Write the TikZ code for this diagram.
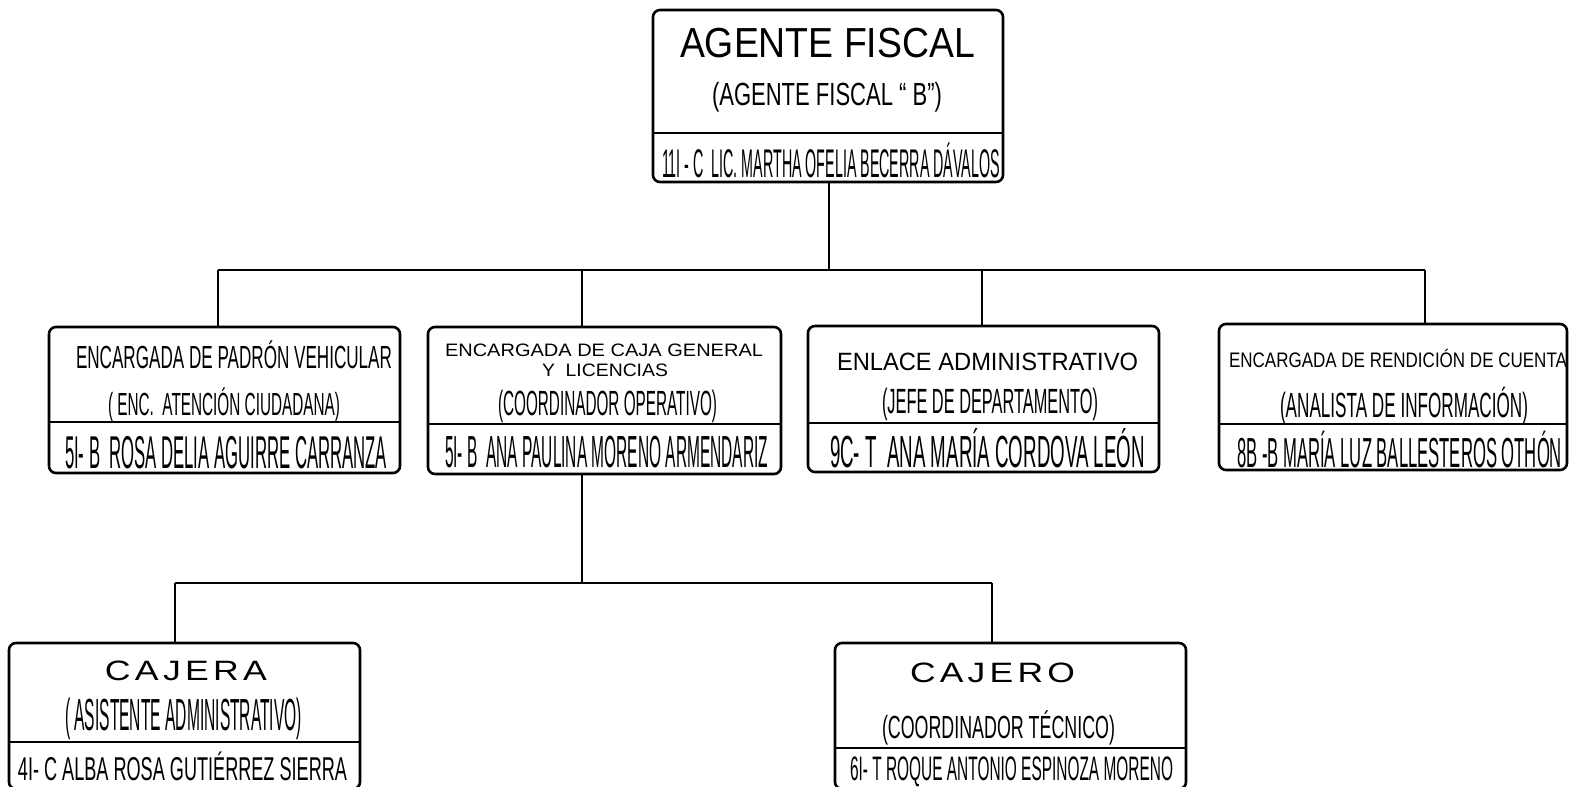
\documentclass[tikz,border=0pt]{standalone}
\usepackage{fontspec}
\setmainfont{Liberation Sans}
\usepackage{graphicx}
\newcommand{\fitline}[3]{\resizebox{#2pt}{\height}{\fontsize{#1pt}{#1pt}\selectfont #3}}
\newcommand{\fitspaced}[3]{\resizebox{#2pt}{\height}{\fontsize{#1pt}{#1pt}\selectfont\addfontfeature{LetterSpace=12}#3}}
\begin{document}
\begin{tikzpicture}[x=1pt,y=-1pt,
  box/.style={draw, line width=2.6pt, rounded corners=7pt, inner sep=0pt, outer sep=0pt},
  wire/.style={line width=1.6pt},
  divider/.style={line width=2pt},
  txt/.style={anchor=base, inner sep=0pt, outer sep=0pt}]
\useasboundingbox (0,0) rectangle (1569,787);

% boxes
\node[box, minimum width=350pt, minimum height=172pt] (top) at (828,96) {};
\node[box, minimum width=351pt, minimum height=146pt] (m1) at (224.5,400) {};
\node[box, minimum width=353pt, minimum height=147pt] (m2) at (604.5,400.5) {};
\node[box, minimum width=351pt, minimum height=146pt] (m3) at (983.5,399) {};
\node[box, minimum width=348pt, minimum height=146pt] (m4) at (1393,397) {};
\node[box, minimum width=351pt, minimum height=146pt] (b1) at (184.5,716) {};
\node[box, minimum width=351pt, minimum height=146pt] (b2) at (1010.5,716) {};

% dividers
\coordinate (d0) at (0,133);
\coordinate (d1) at (0,422);
\coordinate (d2) at (0,424);
\coordinate (d3) at (0,423);
\coordinate (d4) at (0,424);
\coordinate (d5) at (0,742);
\coordinate (d6) at (0,748);
\draw[divider] (top.west |- d0) -- (top.east |- d0);
\draw[divider] (m1.west |- d1) -- (m1.east |- d1);
\draw[divider] (m2.west |- d2) -- (m2.east |- d2);
\draw[divider] (m3.west |- d3) -- (m3.east |- d3);
\draw[divider] (m4.west |- d4) -- (m4.east |- d4);
\draw[divider] (b1.west |- d5) -- (b1.east |- d5);
\draw[divider] (b2.west |- d6) -- (b2.east |- d6);

% connectors
\coordinate (bus0) at (829,270);
\coordinate (busL) at (218,270);
\coordinate (s2) at (582,270);
\coordinate (s3) at (982,270);
\coordinate (busR) at (1425,270);
\draw[wire] (top.south -| bus0) -- (bus0);
\draw[wire] (busL) -- (busR);
\draw[wire] (busL) -- (busL |- m1.north);
\draw[wire] (s2) -- (s2 |- m2.north);
\draw[wire] (s3) -- (s3 |- m3.north);
\draw[wire] (busR) -- (busR |- m4.north);
\coordinate (s2b) at (582,583);
\coordinate (l2L) at (175,583);
\coordinate (l2R) at (992,583);
\draw[wire] (m2.south -| s2b) -- (s2b);
\draw[wire] (l2L) -- (l2R);
\draw[wire] (l2L) -- (l2L |- b1.north);
\draw[wire] (l2R) -- (l2R |- b2.north);

% texts: top
\node[txt] (t1) at (827.5,57) {\fitline{42}{295}{AGENTE FISCAL}};
\node[txt] (t2) at (827,105) {\fitline{32}{230}{(AGENTE FISCAL “ B”)}};
\node[txt] (t3) at (831,177) {\fitline{40}{338}{11I - C\ \ LIC. MARTHA OFELIA BECERRA DÁVALOS}};

% m1
\node[txt] (m1a) at (234,368) {\fitline{32}{316}{ENCARGADA DE PADRÓN VEHICULAR}};
\node[txt] (m1b) at (224,415) {\fitline{32}{232}{( ENC.\ \ ATENCIÓN CIUDADANA)}};
\node[txt] (m1c) at (226,468) {\fitline{46}{322}{5I- B\ \ ROSA DELIA AGUIRRE CARRANZA}};

% m2
\node[txt] (m2a) at (604,356) {\fitline{18}{318}{ENCARGADA DE CAJA GENERAL}};
\node[txt] (m2b) at (605,376) {\fitline{18}{126}{Y\ \ LICENCIAS}};
\node[txt] (m2c) at (607.5,415) {\fitline{35}{219}{(COORDINADOR OPERATIVO)}};
\node[txt] (m2d) at (606.5,467) {\fitline{45}{323}{5I- B\ \ ANA PAULINA MORENO ARMENDARIZ}};

% m3
\node[txt] (m3a) at (987.5,370) {\fitline{25}{301}{ENLACE ADMINISTRATIVO}};
\node[txt] (m3b) at (990,413) {\fitline{35}{216}{(JEFE DE DEPARTAMENTO)}};
\node[txt] (m3c) at (987.5,467) {\fitline{45}{315}{9C- T\ \ ANA MARÍA CORDOVA LEÓN}};

% m4
\node[txt] (m4a) at (1398,367) {\fitline{21}{338}{ENCARGADA DE RENDICIÓN DE CUENTA}};
\node[txt] (m4b) at (1404,417) {\fitline{35}{248}{(ANALISTA DE INFORMACIÓN)}};
\node[txt] (m4c) at (1399.5,467) {\fitline{42}{325}{8B -B MARÍA LUZ BALLESTEROS OTHÓN}};

% b1
\node[txt] (b1a) at (186,680) {\fitspaced{28}{162}{CAJERA}};
\node[txt] (b1b) at (183.5,730) {\fitline{45}{237}{( ASISTENTE ADMINISTRATIVO)}};
\node[txt] (b1c) at (182.5,780) {\fitline{33}{329}{4I- C ALBA ROSA GUTIÉRREZ SIERRA}};

% b2
\node[txt] (b2a) at (992.5,682) {\fitspaced{28}{165}{CAJERO}};
\node[txt] (b2b) at (998.5,738) {\fitline{32}{233}{(COORDINADOR TÉCNICO)}};
\node[txt] (b2c) at (1011.5,780) {\fitline{34}{323}{6I- T ROQUE ANTONIO ESPINOZA MORENO}};
\end{tikzpicture}
\end{document}
